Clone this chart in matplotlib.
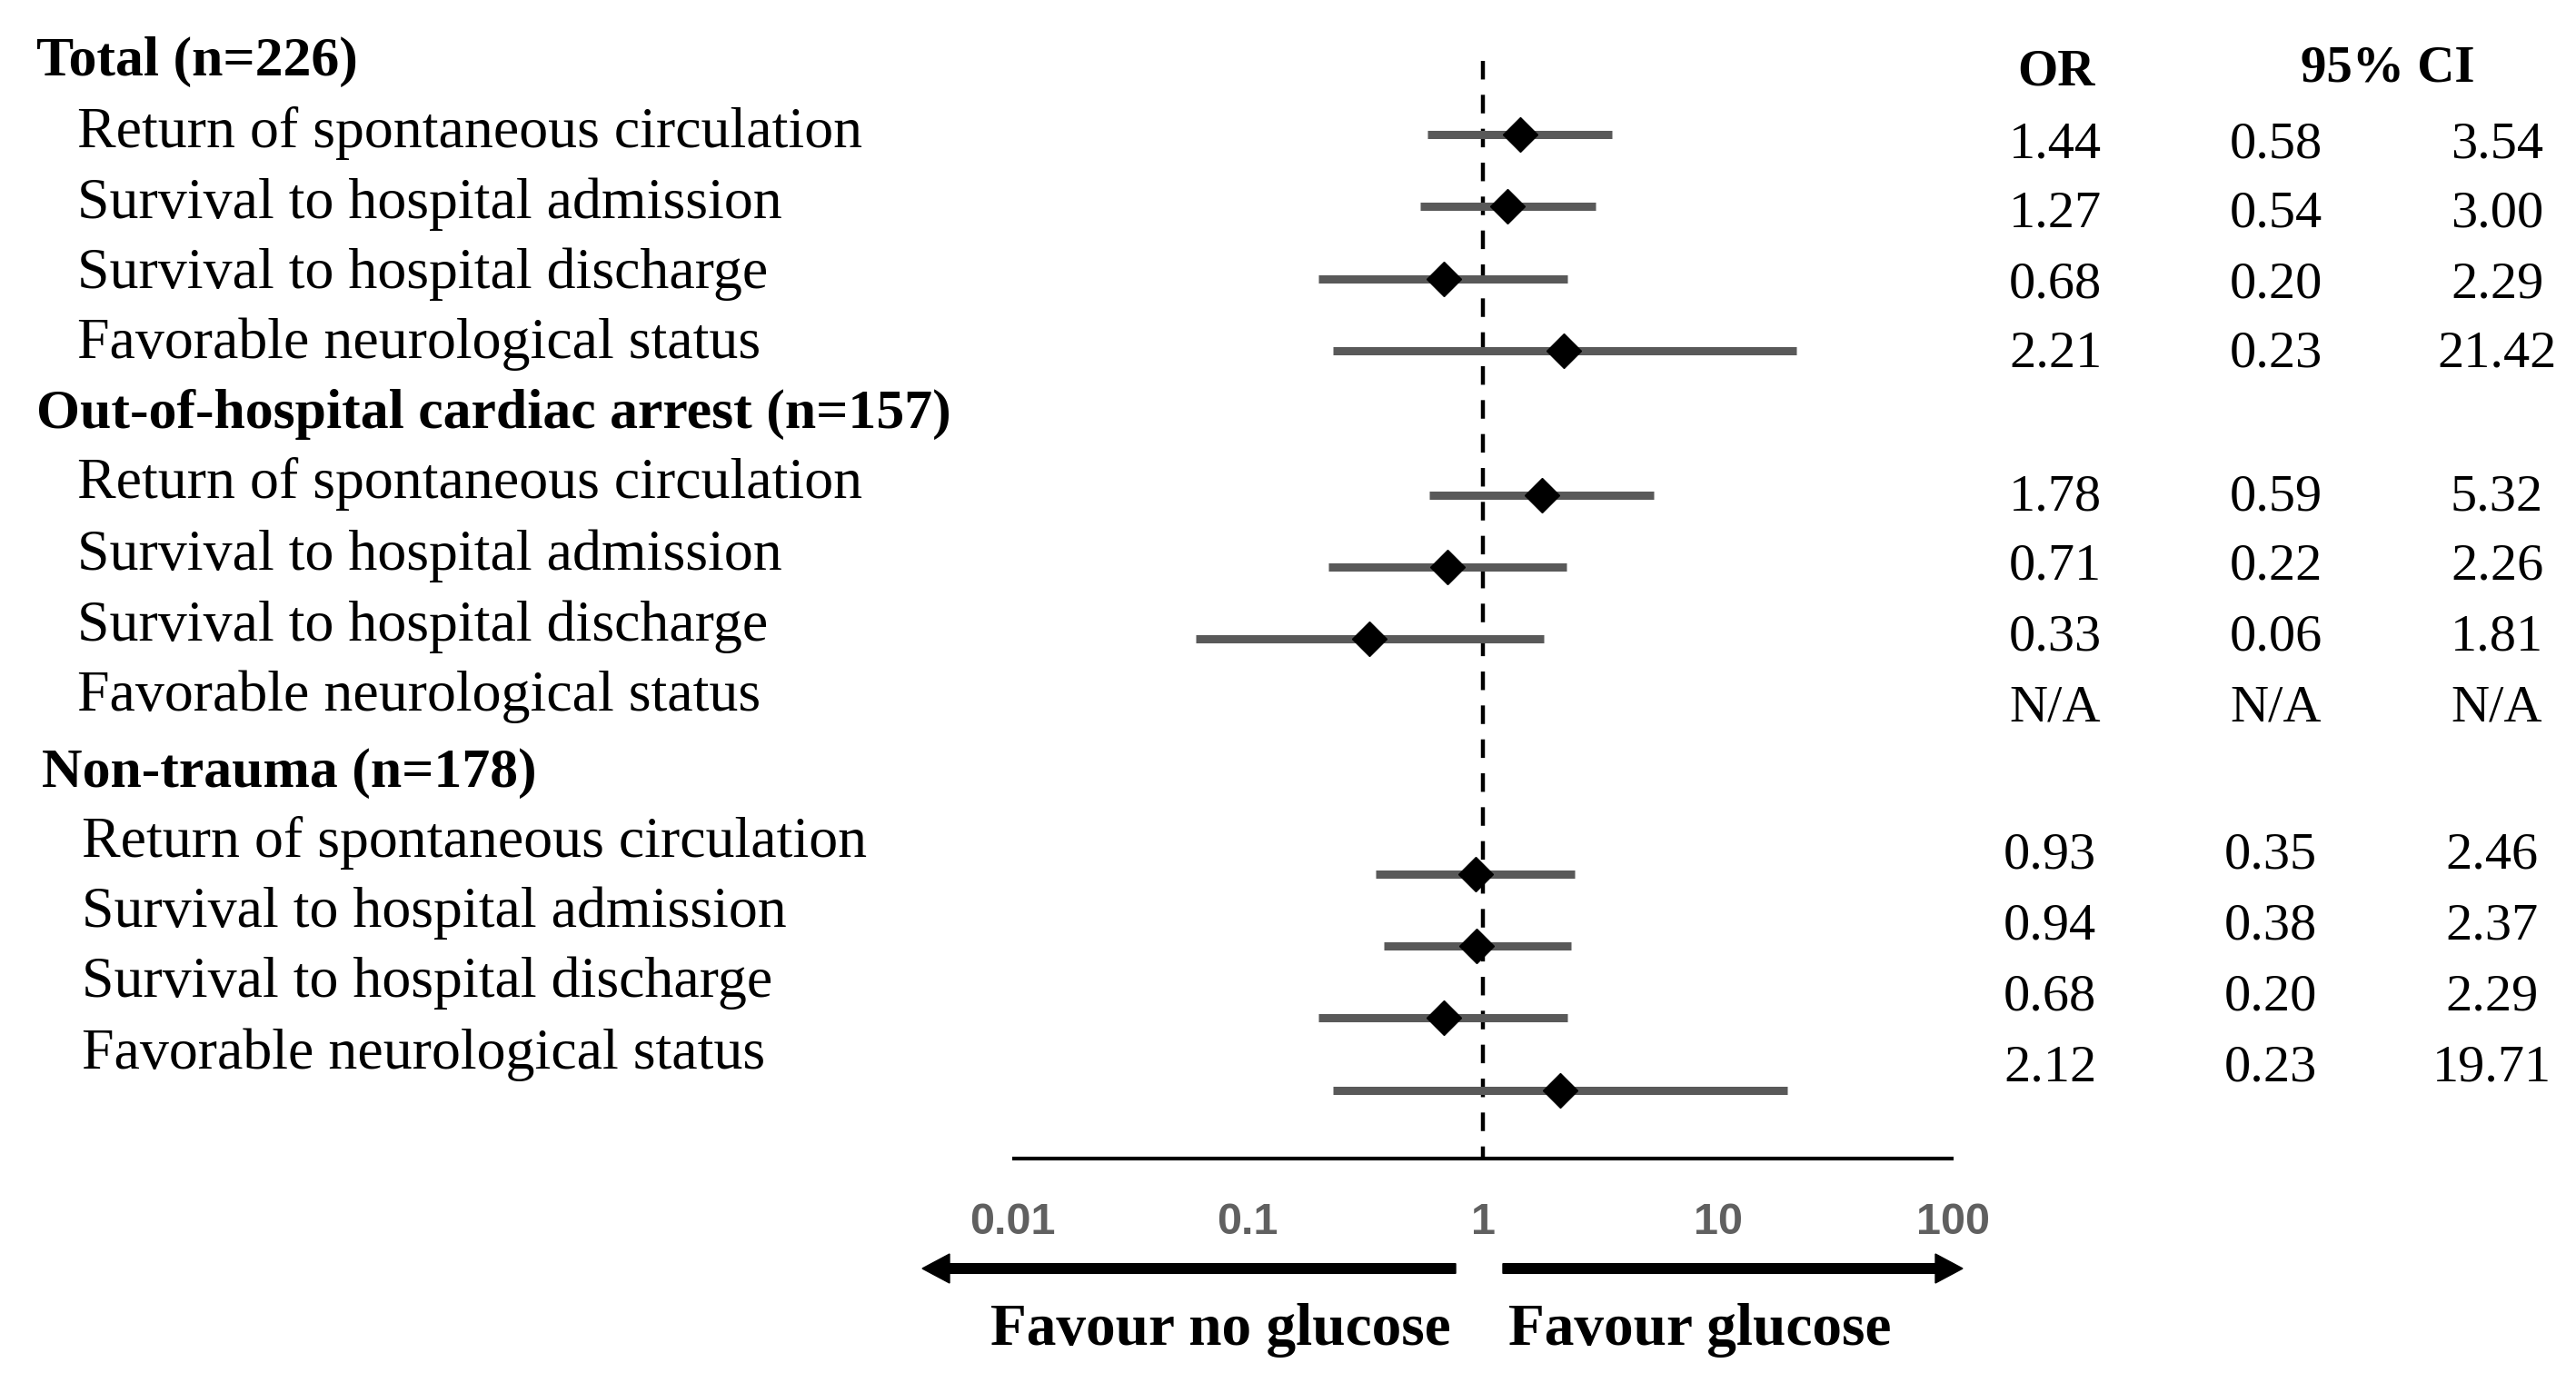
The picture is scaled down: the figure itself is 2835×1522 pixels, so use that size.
import numpy as np
import matplotlib
matplotlib.use("Agg")
import matplotlib.pyplot as plt

# groups and outcomes
groups = ["Total (n=226)", "Out-of-hospital cardiac arrest (n=157)", "Non-trauma (n=178)"]
outcomes = ["Return of spontaneous circulation", "Survival to hospital admission",
            "Survival to hospital discharge", "Favorable neurological status"]

# odds ratios and 95% CI per group (nan = N/A)
odds = [[1.44, 1.27, 0.68, 2.21],
        [1.78, 0.71, 0.33, np.nan],
        [0.93, 0.94, 0.68, 2.12]]
ci_low = [[0.58, 0.54, 0.20, 0.23],
          [0.59, 0.22, 0.06, np.nan],
          [0.35, 0.38, 0.20, 0.23]]
ci_high = [[3.54, 3.00, 2.29, 21.42],
           [5.32, 2.26, 1.81, np.nan],
           [2.46, 2.37, 2.29, 19.71]]

ticks = [0.01, 0.1, 1, 10, 100]
tick_labels = ["0.01", "0.1", "1", "10", "100"]

# layout (pixels, top-down)
W, H = 2835, 1522
head_y = [83, 471, 866]
head_x = [40, 40, 46]
label_y = [[162, 240, 317, 394], [548, 627, 705, 782], [943, 1020, 1097, 1176]]
label_x = [85, 85, 90]
mark_y = [[148, 227, 307, 386], [545, 624, 703, 782], [962, 1041, 1120, 1200]]
num_y = [[173, 250, 327, 403], [561, 638, 716, 794], [956, 1033, 1111, 1189]]
col_x = [[2262, 2505, 2748], [2262, 2505, 2748], [2256, 2499, 2742]]
ax_left, ax_right, ax_line_y = 1114, 2150, 1275

serif = "Liberation Serif"

fig = plt.figure(figsize=(W / 100, H / 100), dpi=100)
canvas = fig.add_axes([0, 0, 1, 1])
canvas.set_xlim(0, W)
canvas.set_ylim(H, 0)
canvas.axis("off")

ax = fig.add_axes([ax_left / W, 0, (ax_right - ax_left) / W, 1])
ax.set_xscale("log")
ax.set_xlim(0.01, 100)
ax.set_ylim(H, 0)
ax.axis("off")
ax.patch.set_alpha(0)

# reference line and axis
ax.vlines(1, 67, ax_line_y, colors="black", linewidth=3.2, linestyles=(0, (4.6, 3.8)))
ax.hlines(ax_line_y, 0.01, 100, colors="black", linewidth=3)
for t, lab in zip(ticks, tick_labels):
    ax.text(t, 1358, lab, ha="center", va="baseline", fontsize=35, fontweight="bold",
            family="Liberation Sans", color="#606060")

for g in range(3):
    canvas.text(head_x[g], head_y[g], groups[g], fontsize=44.5, fontweight="bold",
                family=serif, va="baseline")
    for i in range(4):
        canvas.text(label_x[g], label_y[g][i], outcomes[i], fontsize=46,
                    family=serif, va="baseline")
        o, lo, hi = odds[g][i], ci_low[g][i], ci_high[g][i]
        if not np.isnan(o):
            ax.hlines(mark_y[g][i], lo, hi, colors="#595959", linewidth=6.5)
            ax.plot(o, mark_y[g][i], marker="D", color="black", markersize=19)
        for x, v in zip(col_x[g], (o, lo, hi)):
            s = "N/A" if np.isnan(v) else "%.2f" % v
            canvas.text(x, num_y[g][i], s, fontsize=42, family=serif,
                        ha="center", va="baseline")

canvas.text(2263, 93, "OR", fontsize=41, fontweight="bold", family=serif,
            ha="center", va="baseline")
canvas.text(2628, 90, "95% CI", fontsize=41, fontweight="bold", family=serif,
            ha="center", va="baseline")

# direction arrows
canvas.arrow(1602, 1396, 1015 - 1602, 0, width=10.7, head_width=32, head_length=30,
             length_includes_head=True, color="black")
canvas.arrow(1654, 1396, 2160 - 1654, 0, width=10.7, head_width=32, head_length=30,
             length_includes_head=True, color="black")
canvas.text(1343, 1480, "Favour no glucose", fontsize=47, fontweight="bold",
            family=serif, ha="center", va="baseline")
canvas.text(1871, 1480, "Favour glucose", fontsize=47, fontweight="bold",
            family=serif, ha="center", va="baseline")

fig.savefig("out.png", dpi=100)
